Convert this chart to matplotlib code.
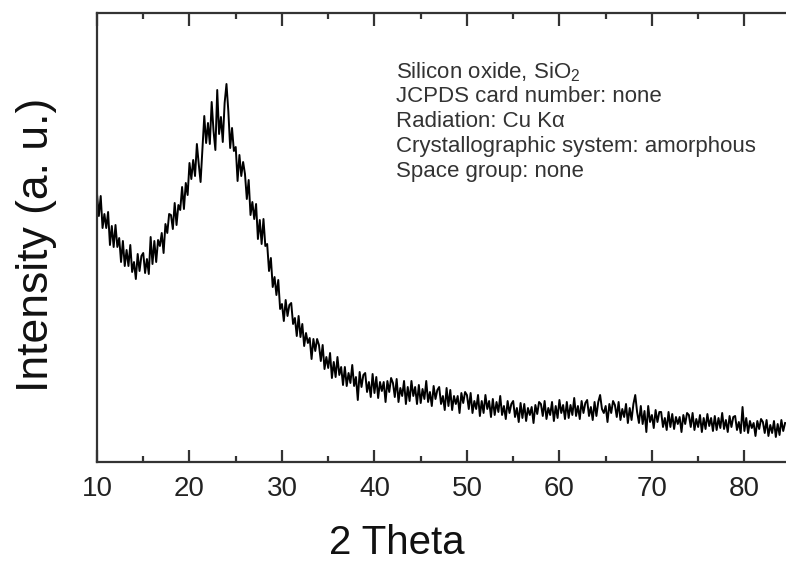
import numpy as np
import matplotlib
matplotlib.use("Agg")
import matplotlib.pyplot as plt

plt.rcParams["font.family"] = ["Liberation Sans", "DejaVu Sans"]
plt.rcParams["mathtext.fontset"] = "custom"
plt.rcParams["mathtext.rm"] = "Liberation Sans"
plt.rcParams["mathtext.default"] = "regular"

# XRD scan of amorphous SiO2, every 0.2 deg from 10 deg
two_theta_start = 10.0
two_theta_step = 0.2
intensity = [
    268, 246, 266, 234, 248,   # 10
    234, 250, 217, 236, 215,   # 11
    237, 215, 224, 200, 221,   # 12
    196, 212, 196, 217, 190,   # 13
    200, 183, 208, 191, 206,   # 14
    209, 189, 203, 188, 225,   # 15
    198, 221, 200, 222, 216,   # 16
    229, 209, 238, 229, 248,   # 17
    247, 233, 259, 237, 257,   # 18
    252, 275, 253, 279, 267,   # 19
    299, 283, 302, 286, 318,   # 20
    298, 280, 313, 346, 319,   # 21
    339, 318, 360, 331, 312,   # 22
    372, 328, 345, 320, 359,   # 23
    378, 351, 314, 334, 311,   # 24
    315, 281, 307, 286, 300,   # 25
    288, 263, 282, 247, 260,   # 26
    243, 258, 223, 242, 218,   # 27
    243, 216, 218, 191, 204,   # 28
    175, 185, 167, 182, 153,   # 29
    158, 141, 162, 146, 157,   # 30
    159, 138, 144, 126, 146,   # 31
    125, 138, 116, 129, 119,   # 32
    124, 103, 123, 111, 123,   # 33
    117, 101, 117, 93, 105,    # 34
    94, 109, 84, 100, 85,      # 35
    105, 87, 95, 77, 95,       # 36
    76, 89, 79, 97, 76,        # 37
    85, 62, 90, 75, 87,        # 38
    89, 70, 80, 65, 88,        # 39
    69, 85, 64, 80, 71,        # 40
    80, 60, 81, 70, 84,        # 41
    79, 65, 83, 60, 74,        # 42
    66, 81, 58, 75, 61,        # 43
    81, 66, 75, 58, 77,        # 44
    59, 73, 63, 81, 60,        # 45
    70, 56, 76, 63, 72,        # 46
    75, 58, 66, 52, 74,        # 47
    56, 72, 52, 66, 58,        # 48
    66, 49, 69, 59, 70,        # 49
    67, 53, 69, 49, 61,        # 50
    53, 67, 46, 61, 49,        # 51
    67, 53, 61, 45, 63,        # 52
    47, 60, 50, 66, 47,        # 53
    56, 43, 61, 49, 58,        # 54
    61, 45, 54, 40, 59,        # 55
    44, 58, 41, 54, 47,        # 56
    55, 39, 57, 48, 60,        # 57
    58, 46, 61, 43, 54,        # 58
    47, 60, 41, 56, 44,        # 59
    62, 49, 57, 43, 60,        # 60
    44, 57, 47, 64, 46,        # 61
    56, 43, 61, 49, 59,        # 62
    62, 46, 55, 42, 60,        # 63
    46, 60, 67, 53, 49,        # 64
    56, 40, 58, 49, 61,        # 65
    57, 45, 60, 42, 53,        # 66
    45, 58, 39, 54, 42,        # 67
    58, 67, 50, 39, 56,        # 68
    38, 51, 30, 56, 40,        # 69
    47, 34, 52, 40, 50,        # 70
    50, 35, 44, 32, 50,        # 71
    35, 48, 33, 45, 38,        # 72
    45, 30, 47, 38, 49,        # 73
    47, 35, 49, 32, 43,        # 74
    35, 47, 30, 44, 33,        # 75
    48, 36, 44, 31, 46,        # 76
    32, 44, 34, 49, 33,        # 77
    42, 30, 46, 35, 45,        # 78
    46, 32, 40, 29, 55,        # 79
    31, 44, 29, 41, 34,        # 80
    39, 26, 41, 33, 43,        # 81
    40, 29, 42, 26, 37,        # 82
    29, 41, 25, 38, 27,        # 83
    42, 31, 39,                # 84
]
two_theta = two_theta_start + two_theta_step * np.arange(len(intensity))

info_lines = [
    "Silicon oxide, SiO$_{2}$",
    "JCPDS card number: none",
    "Radiation: Cu K\u03b1",
    "Crystallographic system: amorphous",
    "Space group: none",
]

fig = plt.figure(figsize=(7.86, 5.64), dpi=100)
W, H = 786, 564
ax = fig.add_axes([97 / W, (H - 462) / H, (786 - 97) / W, (462 - 13) / H])

ax.plot(two_theta, intensity, color="black", lw=1.4)

ax.set_xlim(10, 84.5)
ax.set_ylim(0, 449)
ax.set_xticks(range(10, 81, 10))
ax.set_xticks(range(15, 85, 10), minor=True)
ax.set_yticks([])
ax.tick_params(axis="x", which="both", direction="in", top=True,
               colors="#333333", width=1.6, labelsize=20, pad=10)
ax.tick_params(axis="x", which="major", length=9)
ax.tick_params(axis="x", which="minor", length=4)
for lab in ax.get_xticklabels():
    lab.set_color("#222222")

for side in ["left", "top", "bottom"]:
    ax.spines[side].set_linewidth(1.6)
    ax.spines[side].set_color("#333333")
ax.spines["right"].set_visible(False)

ax.set_xlabel("2 Theta", fontsize=29, color="#111111")
ax.xaxis.set_label_coords((397 - 97) / 689, (462 - 524) / 449)
ax.set_ylabel("Intensity (a. u.)", fontsize=32, color="#111111")
ax.yaxis.set_label_coords((57 - 97) / 689, 0.483)

for i, line in enumerate(info_lines):
    fig.text(396 / W, 1 - (72 + 24.8 * i) / H, line, fontsize=16,
             color="#333333", ha="left", va="center")

fig.savefig("out.png", dpi=100)
